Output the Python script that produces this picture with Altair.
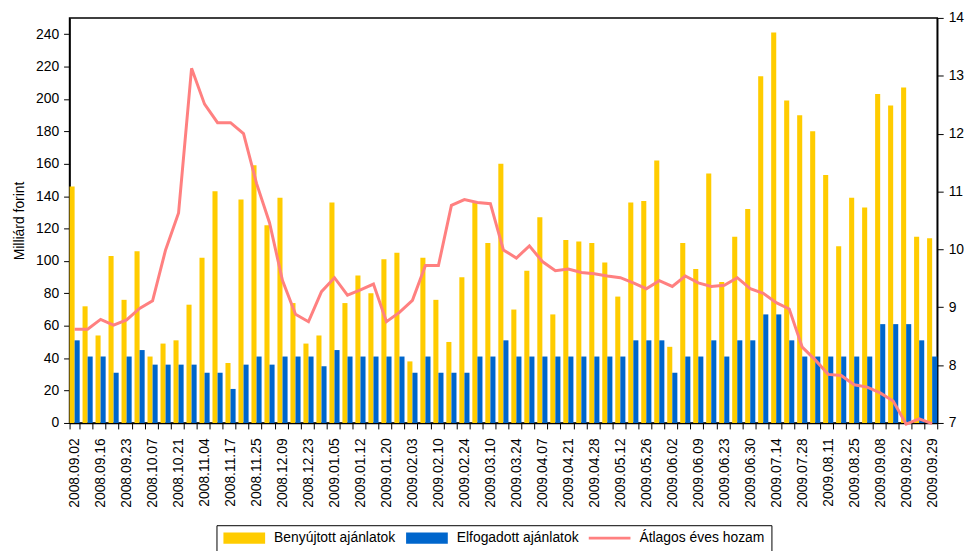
import json
import altair as alt
import pandas as pd

dates = [
    "2008.09.02", "2008.09.09", "2008.09.16", "2008.09.18", "2008.09.23", "2008.09.30",
    "2008.10.07", "2008.10.14", "2008.10.21", "2008.10.28", "2008.11.04", "2008.11.11",
    "2008.11.17", "2008.11.18", "2008.11.25", "2008.12.02", "2008.12.09", "2008.12.16",
    "2008.12.23", "2008.12.30", "2009.01.05", "2009.01.06", "2009.01.12", "2009.01.13",
    "2009.01.20", "2009.01.27", "2009.02.03", "2009.02.05", "2009.02.10", "2009.02.17",
    "2009.02.24", "2009.03.03", "2009.03.10", "2009.03.17", "2009.03.24", "2009.03.31",
    "2009.04.07", "2009.04.14", "2009.04.21", "2009.04.23", "2009.04.28", "2009.05.05",
    "2009.05.12", "2009.05.19", "2009.05.26", "2009.05.28", "2009.06.02", "2009.06.04",
    "2009.06.09", "2009.06.16", "2009.06.23", "2009.06.25", "2009.06.30", "2009.07.07",
    "2009.07.14", "2009.07.21", "2009.07.28", "2009.08.04", "2009.08.11", "2009.08.18",
    "2009.08.25", "2009.09.01", "2009.09.08", "2009.09.15", "2009.09.22", "2009.09.24",
    "2009.09.29",
]

submitted = [
    146, 72, 54, 103, 76, 106, 41, 49, 51, 73, 102, 143, 37, 138, 159, 122, 139, 74,
    49, 54, 136, 74, 91, 80, 101, 105, 38, 102, 76, 50, 90, 136, 111, 160, 70, 94,
    127, 67, 113, 112, 111, 99, 78, 136, 137, 162, 47, 111, 95, 154, 87, 115, 132,
    214, 241, 199, 190, 180, 153, 109, 139, 133, 203, 196, 207, 115, 114,
]

accepted = [
    51, 41, 41, 31, 41, 45, 36, 36, 36, 36, 31, 31, 21, 36, 41, 36, 41, 41,
    41, 35, 45, 41, 41, 41, 41, 41, 31, 41, 31, 31, 31, 41, 41, 51, 41, 41,
    41, 41, 41, 41, 41, 41, 41, 51, 51, 51, 31, 41, 41, 51, 41, 51, 51,
    67, 67, 51, 41, 41, 41, 41, 41, 41, 61, 61, 61, 51, 41,
]

avg_yield = [
    8.62, 8.62, 8.79, 8.69, 8.78, 8.98, 9.11, 9.99, 10.63, 13.13, 12.51, 12.19, 12.19,
    12.0, 11.14, 10.46, 9.46, 8.88, 8.75, 9.27, 9.51, 9.21, 9.30, 9.40, 8.75, 8.91,
    9.12, 9.72, 9.72, 10.76, 10.86, 10.81, 10.79, 9.99, 9.85, 10.06, 9.79, 9.63, 9.66,
    9.60, 9.58, 9.54, 9.51, 9.42, 9.32, 9.46, 9.36, 9.54, 9.42, 9.36, 9.38, 9.51,
    9.32, 9.24, 9.08, 8.97, 8.31, 8.09, 7.84, 7.82, 7.66, 7.62, 7.52, 7.38, 6.98,
    7.07, 6.99,
]

series_names = ["Benyújtott ajánlatok", "Elfogadott ajánlatok", "Átlagos éves hozam"]
series_colors = ["#FFCC00", "#0066CC", "#FF8080"]

shown = dates[::2]

FONT = "Liberation Sans, Arial, sans-serif"

bars_df = pd.DataFrame(
    {
        "date": dates * 2,
        "series": [series_names[0]] * len(dates) + [series_names[1]] * len(dates),
        "value": submitted + accepted,
        "order": [0] * len(dates) + [1] * len(dates),
    }
)
line_df = pd.DataFrame({"date": dates, "yield": avg_yield})
legend_df = pd.DataFrame({"series": series_names})

RECT = "M-3.5,-0.95H3.5V0.95H-3.5Z"
THIN = "M-3.5,-0.25H3.5V0.25H-3.5Z"

x_enc = alt.X(
    "date:N",
    sort=dates,
    title=None,
    scale=alt.Scale(paddingInner=0.22, paddingOuter=0.0),
    axis=alt.Axis(
        labelAngle=-90,
        labelExpr="indexof(" + json.dumps(shown) + ", datum.value) >= 0 ? datum.value : ''",
        tickBand="extent",
        tickSize=6,
        labelPadding=9,
        labelFontSize=14,
        labelFont=FONT,
        labelColor="black",
        domainColor="black",
        tickColor="black",
        domainWidth=1.5,
        labelOverlap=False,
    ),
)

bars = (
    alt.Chart(bars_df)
    .mark_bar()
    .encode(
        x=x_enc,
        xOffset=alt.XOffset("order:O", scale=alt.Scale(paddingInner=0.0)),
        y=alt.Y(
            "value:Q",
            title="Milliárd forint",
            scale=alt.Scale(domain=[0, 250], nice=False),
            axis=alt.Axis(
                values=list(range(0, 241, 20)),
                grid=False,
                tickSize=6,
                labelPadding=5,
                titlePadding=9,
                labelFontSize=14,
                labelFont=FONT,
                titleFont=FONT,
                titleFontSize=14,
                titleFontWeight="normal",
                labelColor="black",
                titleColor="black",
                domainColor="black",
                tickColor="black",
                domainWidth=1.5,
            ),
        ),
        fill=alt.Fill(
            "series:N",
            scale=alt.Scale(domain=series_names[:2], range=series_colors[:2]),
            legend=None,
        ),
    )
)

line = (
    alt.Chart(line_df)
    .mark_line(strokeWidth=3, color=series_colors[2])
    .encode(
        x=x_enc,
        y=alt.Y(
            "yield:Q",
            title=None,
            scale=alt.Scale(domain=[7, 14], nice=False),
            axis=alt.Axis(
                orient="right",
                values=list(range(7, 15)),
                grid=False,
                tickSize=6,
                labelPadding=5,
                labelFontSize=14,
                labelFont=FONT,
                labelColor="black",
                domainColor="black",
                tickColor="black",
                domainWidth=1.5,
            ),
        ),
    )
)

legend_kwargs = dict(
    title=None,
    orient="none",
    legendX=148,
    legendY=511,
    direction="horizontal",
    columns=3,
    columnPadding=9,
    symbolSize=144,
    symbolOffset=15,
    symbolOpacity=1,
    symbolStrokeWidth=0,
    labelFontSize=14,
    labelFont=FONT,
    labelColor="black",
    labelLimit=300,
    labelOffset=23,
    strokeColor="black",
    padding=6,
)

legend_layer = (
    alt.Chart(legend_df)
    .mark_point(filled=True, opacity=0)
    .encode(
        x=alt.value(0),
        y=alt.value(0),
        color=alt.Color(
            "series:N",
            scale=alt.Scale(domain=series_names, range=series_colors),
            legend=alt.Legend(**legend_kwargs),
        ),
        shape=alt.Shape(
            "series:N",
            scale=alt.Scale(domain=series_names, range=[RECT, RECT, THIN]),
            legend=alt.Legend(**legend_kwargs),
        ),
    )
)

chart = (
    alt.layer(bars, line, legend_layer)
    .resolve_scale(y="independent")
    .properties(
        width=874,
        height=408,
        padding={"left": 4, "top": 1, "right": 4, "bottom": 0},
        background="white",
    )
    .configure_view(stroke="black", strokeWidth=1.5)
)

chart.save("out.html", embed_options={"renderer": "svg", "actions": False})
